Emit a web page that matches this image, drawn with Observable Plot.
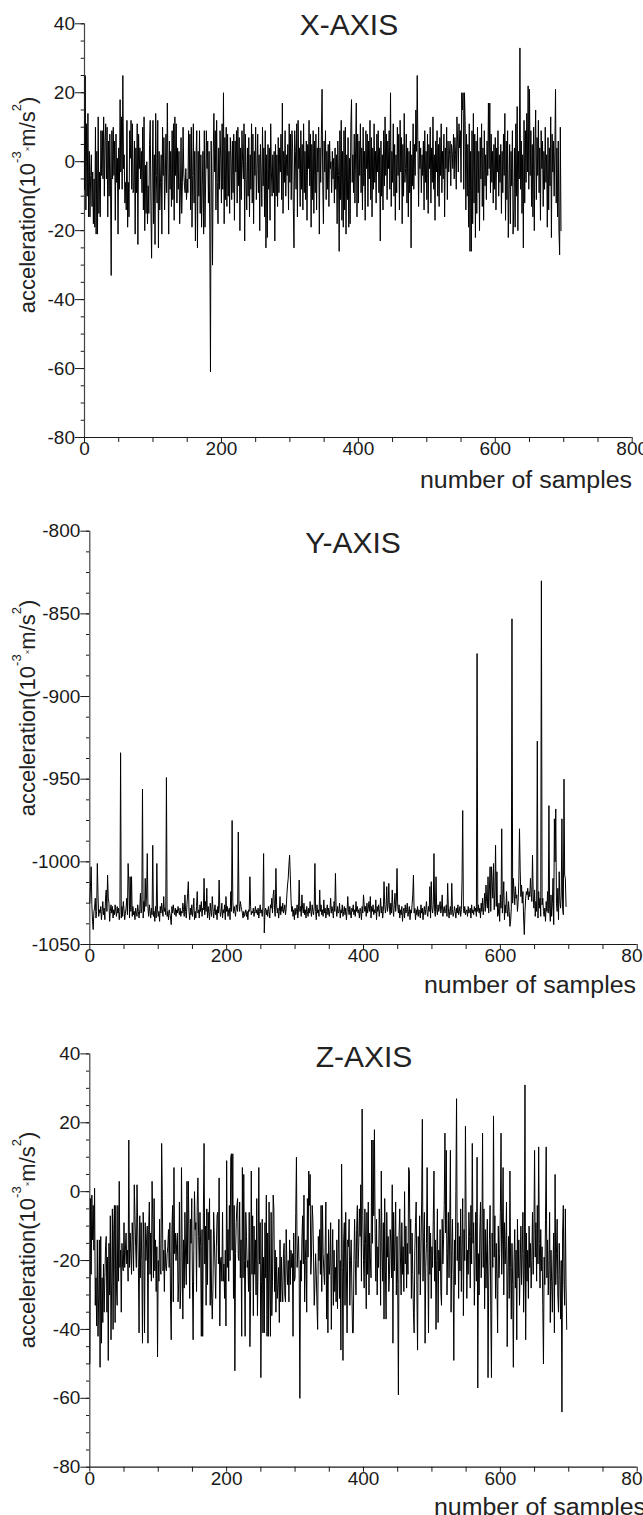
<!DOCTYPE html>
<html><head><meta charset="utf-8">
<script src="https://cdn.jsdelivr.net/npm/d3@7"></script>
<script src="https://cdn.jsdelivr.net/npm/@observablehq/plot@0.6"></script>
<style>
html,body{margin:0;padding:0;background:#fff;}
#chart{width:643px;height:1515px;overflow:hidden;background:#fff;}
#chart svg{display:block;}
</style>
</head><body><div id="chart"></div>
<script>
// ---- data (one value per sample) ----
const xSeries = [
-8,25,-14,11,-10,14,-16,3,-16,-4,2,-13,-3,-18,-5,-19,10,-21,3,-21,
13,-15,-3,-16,9,-4,9,-5,13,-10,6,11,-5,10,-16,6,-10,8,-7,-33,
9,-5,10,-4,6,-17,8,-6,1,-21,4,-8,18,-3,13,-8,25,-2,2,-12,
-6,-14,12,-19,-6,-16,9,1,12,-8,11,-9,-8,6,-21,4,-9,11,-24,8,
-2,4,-5,3,-9,10,-14,13,-20,-1,-15,0,-18,-7,-15,5,12,-13,-28,-3,
12,-18,2,-24,14,-4,-12,12,-25,3,-14,-6,2,-21,10,-4,7,-14,-5,8,
-9,17,-3,-21,6,-8,3,-13,9,-11,11,-17,13,-4,11,-12,4,-8,3,-18,
-10,7,-15,-6,10,-3,-7,-9,-2,-11,-5,-9,9,-5,8,-14,10,-19,-4,11,
-12,3,-23,2,9,-25,3,-10,9,-15,2,-19,-7,3,-21,9,-19,-5,9,-2,
6,-12,3,-20,-61,6,-6,-30,2,14,-3,9,-14,12,-6,-18,4,-8,9,1,
-12,11,-8,20,-18,7,-11,10,-13,8,-10,3,-15,7,1,-11,6,-9,8,-17,
6,-3,9,-12,10,-7,7,-20,4,-11,9,0,-5,11,-23,8,-5,-14,4,-10,
7,-16,2,-8,11,-12,8,-18,3,-4,10,-11,-2,8,-9,2,-20,5,-3,-13,
10,-7,4,-16,9,-25,2,-22,5,-8,4,-17,11,-3,-10,2,-9,3,-23,5,
-10,2,-13,7,-9,4,-3,8,-11,17,-15,3,-6,9,-10,2,-4,5,-14,11,
-6,8,-11,9,4,-13,-25,9,3,-8,11,-16,12,-2,4,-13,9,-8,5,-14,
11,-9,3,-11,6,-17,5,-2,12,-7,8,-19,5,-11,9,-15,6,-9,8,-14,
4,-3,10,-21,4,-6,8,21,-7,-18,6,-3,9,-11,3,-8,5,-13,6,-2,
0,-9,3,-5,1,-12,4,-8,2,-18,6,-4,-26,9,-11,12,-17,3,-19,9,
-14,10,-21,2,-11,7,-19,1,-18,10,18,-6,2,-9,8,-12,4,17,-16,8,
-12,6,-4,11,-9,4,-14,10,-7,3,-17,9,-2,8,-13,6,-5,12,-11,7,
-16,4,-8,11,-6,3,-12,8,-3,9,-9,4,-23,6,-10,2,-14,9,-7,13,
-4,8,-11,6,-2,9,-8,20,-13,3,-6,11,-10,5,-17,2,-9,10,-4,8,
-14,12,-3,7,-18,5,-10,14,-6,-2,8,-12,4,-16,3,-9,6,-25,2,-7,
11,-8,5,-4,15,3,25,4,-13,6,-2,4,-9,2,-4,6,-14,9,-6,3,
-11,8,-15,5,-2,10,-12,4,-6,13,-8,2,-17,6,-3,9,-10,5,-13,7,
-4,11,-9,3,-5,8,-16,4,-2,10,-11,6,-3,2,6,-7,5,3,-2,8,
-5,7,2,-8,13,6,-3,11,4,9,-6,20,15,20,-8,20,12,-14,8,-10,
5,-19,11,-26,3,-26,9,-18,14,-12,8,-22,6,-15,10,-9,3,-20,7,-5,
11,-13,4,-17,9,-7,2,-11,6,-4,17,-2,17,-9,8,-6,3,-12,5,-8,
7,-14,4,-3,9,-10,2,-6,5,-15,3,-9,8,-4,14,-17,6,-11,9,-22,
-8,5,-18,3,-7,9,-21,-14,4,-19,11,-10,16,-20,3,-5,33,-8,6,-15,
2,-25,12,-12,9,-6,14,-3,22,-8,21,-4,9,-13,5,-16,10,-20,4,15,
-11,7,-4,12,-9,4,-17,9,-2,6,-13,3,-8,10,-6,2,-19,7,-14,4,
-7,13,-22,8,-3,6,-10,3,21,-12,4,-16,6,-20,-27,10,-20
];
const ySeries = [
-1025,-1015,-1003,-1026,-1036,-1041,-1030,-1028,-1022,-1034,-1030,-1001,-1020,-1033,-1029,-1031,-1027,-1035,-1030,-1024,
-1032,-1028,-1035,-1022,-1017,-1030,-1008,-1022,-1025,-1036,-1030,-1026,-1031,-1027,-1034,-1029,-1032,-1026,-1030,-1033,
-1027,-1031,-1028,-1035,-1030,-934,-1034,-1027,-1033,-1024,-1029,-1035,-1031,-1028,-1022,-1032,-1001,-1012,-1034,-1009,
-1030,-1009,-1033,-1027,-1032,-1030,-1035,-1028,-1031,-1033,-1026,-1030,-1034,-1029,-1019,-1031,-1028,-956,-1034,-1024,
-1030,-1010,-1027,-1020,-995,-1028,-1033,-1026,-1030,-1034,-1028,-1032,-990,-1033,-1030,-1036,-1027,-1034,-1001,-1029,
-1033,-1030,-1036,-1027,-1031,-1025,-1029,-1033,-1021,-1030,-1028,-1032,-949,-1033,-1030,-1035,-1029,-1031,-1034,-1038,
-1027,-1031,-1026,-1030,-1032,-1028,-1033,-1029,-1031,-1027,-1030,-1032,-1028,-1033,-1030,-1031,-1025,-1029,-1033,-1020,
-1030,-1034,-1026,-1019,-1012,-1030,-1035,-1028,-1032,-1026,-1033,-1029,-1022,-1035,-1030,-1034,-1027,-1018,-1031,-1029,
-1034,-1026,-1030,-1024,-1033,-1028,-1029,-1010,-1032,-1024,-1030,-1016,-1034,-1027,-1031,-1035,-1025,-1030,-1033,-1021,
-1028,-1034,-1030,-1026,-1032,-1029,-1035,-1027,-1031,-1011,-1028,-1033,-1030,-1025,-1034,-1029,-1031,-1026,-1035,-1021,
-1030,-1027,-1033,-1029,-1028,-1035,-1018,-1030,-975,-1024,-1031,-1027,-1030,-1033,-1026,-1028,-1030,-982,-1025,-1030,
-1024,-1027,-1029,-1031,-1034,-1030,-1033,-1031,-1029,-1033,-1030,-1035,-1029,-1030,-1009,-1027,-1032,-1030,-1031,-1028,
-1033,-1030,-1027,-1031,-1029,-1032,-1028,-1034,-1030,-1026,-1031,-1029,-1033,-1027,-995,-1043,-1030,-1028,-1032,-1029,
-1033,-1027,-1030,-1034,-1026,-1028,-1022,-1031,-1020,-1017,-1029,-1033,-1004,-1026,-1031,-1028,-1034,-1030,-1021,-1032,
-1027,-1030,-1025,-1031,-1029,-1026,-1032,-1028,-1020,-1014,-1010,-1002,-996,-1008,-1022,-1030,-1027,-1033,-1029,-1035,
-1028,-1032,-1030,-1026,-1034,-1029,-1011,-1030,-1027,-1033,-1020,-1028,-1031,-1025,-1032,-1029,-1034,-1027,-1030,-1033,
-1028,-1031,-1024,-1030,-1033,-1026,-1030,-1032,-1027,-1001,-1030,-1035,-1026,-1031,-1029,-1033,-1017,-1030,-1026,-1032,
-1029,-1033,-1023,-1031,-1028,-1034,-1030,-1026,-1032,-1028,-1033,-1029,-1022,-1031,-1027,-1030,-1034,-1024,-1030,-1007,
-1028,-1033,-1027,-1031,-1030,-1025,-1034,-1029,-1031,-1026,-1033,-1030,-1027,-1032,-1028,-1035,-1030,-1021,-1029,-1032,
-1027,-1031,-1034,-1028,-1030,-1026,-1032,-1029,-1033,-1024,-1030,-1027,-1031,-1029,-1034,-1028,-1030,-1035,-1027,-1031,
-1020,-1026,-1030,-1027,-1033,-1025,-1031,-1028,-1024,-1030,-1021,-1034,-1027,-1030,-1026,-1032,-1029,-1031,-1023,-1035,
-1027,-1030,-1026,-1033,-1029,-1022,-1031,-1027,-1034,-1030,-1012,-1026,-1031,-1027,-1015,-1030,-1026,-1013,-1029,-1032,
-1025,-1031,-1017,-1028,-1033,-1026,-1019,-1030,-1024,-1004,-1027,-1031,-1026,-1034,-1029,-1032,-1027,-1036,-1030,-1028,
-1034,-1026,-1031,-1029,-1025,-1033,-1030,-1027,-1035,-1029,-1031,-1026,-1020,-1008,-1031,-1028,-1035,-1029,-1032,-1027,
-1033,-1029,-1030,-1034,-1026,-1031,-1028,-1035,-1030,-1027,-1032,-1029,-1024,-1031,-1033,-1027,-1030,-1015,-1034,-1012,
-1028,-1031,-1026,-995,-1030,-1033,-1009,-1029,-1032,-1026,-1030,-1027,-1024,-1031,-1028,-1020,-1033,-1029,-1027,-1031,
-1030,-1026,-1033,-1013,-1028,-1034,-1030,-1027,-1032,-1013,-1029,-1033,-1031,-1027,-1030,-1034,-1028,-1031,-1026,-1032,
-1030,-1027,-1033,-1029,-1011,-969,-1028,-1031,-1027,-1032,-1030,-1029,-1033,-1027,-1031,-1030,-1028,-1034,-1026,-1031,
-1029,-1032,-1027,-1030,-1028,-1033,-874,-1030,-1026,-1031,-1028,-1034,-1025,-1030,-1022,-1032,-1027,-1019,-1030,-1014,
-1024,-1028,-1009,-1031,-1017,-1003,-1030,-1003,-1012,-1022,-1001,-1029,-1018,-990,-1027,-1006,-1033,-1032,-1025,-1036,
-1020,-1028,-980,-1031,-1022,-1012,-1035,-1026,-1031,-1018,-1029,-1033,-1024,-1030,-1039,-1036,-1028,-853,-1025,-1010,
-1018,-1026,-1015,-1022,-1020,-1030,-1024,-1012,-980,-1005,-1021,-1014,-1025,-1018,-1034,-1044,-1030,-1022,-1018,-1020,
-1016,-1023,-1018,-1021,-1010,-1019,-1024,-996,-1020,-1028,-1017,-1033,-1024,-1030,-927,-1034,-1018,-1028,-1022,-1033,
-830,-1026,-1022,-1030,-1033,-1028,-1036,-1024,-1030,-1018,-1031,-966,-1028,-1036,-1020,-1033,-1025,-1010,-1038,-974,
-1000,-968,-1025,-1030,-1016,-1035,-1006,-1024,-1028,-1020,-974,-1028,-1032,-950,-1008,-1010,-1027
];
const zSeries = [
-50,-2,-24,-1,-14,-4,-17,1,-33,-25,-39,-14,-42,-30,-14,-51,-13,-44,-25,-38,
-21,-35,-25,-16,-13,-35,-19,-49,-15,-30,-7,-43,-26,-5,-40,-11,-4,-38,-4,-28,
-33,-4,-26,3,-22,-17,-35,-15,-22,-23,-9,-22,-17,-12,-21,-17,-26,15,-22,-12,
-18,-24,-9,-14,-23,2,-7,-16,-22,2,-10,-22,-41,-7,-25,-9,-20,-44,-6,-15,
-41,-9,-20,-14,-10,-44,-11,-3,-24,-12,-26,3,-8,-25,-2,-23,-14,-29,-16,-48,
-20,-26,-8,-23,-24,14,-2,-23,-17,-29,-14,-22,-23,-18,-16,-11,-22,-9,-32,-43,
-11,-4,-32,7,-18,-12,-20,-15,-12,-32,-26,-3,-34,-28,7,-17,-37,-14,-28,-6,
-19,-27,3,-21,3,-12,-31,-8,-15,-2,-26,-43,-17,0,-11,-9,-29,-4,4,-13,
-22,-6,-16,-42,-11,-42,-6,14,-21,-10,-33,-5,-27,-6,-14,-2,-33,-11,-30,-37,
-28,-6,-14,-22,-31,-16,-7,-6,-21,4,-39,-20,-19,-26,-6,-26,-21,-31,-17,-39,
9,-22,-11,-26,-4,-20,10,11,-17,11,-31,-4,-52,-18,-9,-4,-2,-19,-20,-3,
-25,-14,-42,7,-25,5,-20,-42,-6,-13,-22,-20,-29,-6,-45,-29,6,-24,-7,-36,
-10,-24,-14,-30,-2,-36,-20,7,-21,-9,-54,-26,-8,-41,-19,-41,-9,-25,-1,-42,
-12,-42,-3,-27,-42,-6,-36,-26,-1,-5,-29,-17,-35,-19,-31,-27,-22,-38,-14,-32,
-19,-28,-32,-18,-15,-30,-32,-11,-21,-27,-20,-32,-14,-27,-17,-22,-18,-42,-12,-26,
-25,-6,10,-22,-17,-13,-24,-60,-20,-26,-14,-7,-21,-1,-32,-20,-14,-35,-2,-19,
6,-4,5,-24,-19,-4,-8,-19,-33,-27,-18,-24,-33,-40,-13,-20,-11,-24,-4,-29,
-4,-18,-23,-27,-16,-3,-37,-18,-41,-11,-24,-21,-9,-40,-21,-11,-33,-17,-29,-22,
-32,-14,-34,-18,-8,-31,-20,-46,8,-22,-49,-14,-9,-33,-6,-23,-41,-14,-16,-8,
-33,-20,-14,-28,-41,-41,-21,-8,-20,-30,-11,-4,-22,-16,-5,-13,2,-26,24,-7,
-20,-28,-5,-15,-34,-6,-24,-3,-30,-12,-19,-25,15,-15,15,-7,18,-12,-26,-8,
-30,-16,-22,-5,-11,-33,6,-17,-26,-9,-37,-2,-23,-37,-6,-19,-13,-29,-24,-11,
-15,-25,2,-44,-6,-23,-14,-3,-30,-13,-27,-59,-12,-5,-19,-30,-9,-24,-16,-29,
0,-21,-10,-28,-15,-24,7,6,-18,-8,-31,-12,-24,-35,-41,-17,-9,-3,-28,-46,
-13,-24,-7,-30,-17,-3,21,-26,-13,-6,-44,-22,-15,7,-18,-41,-10,-24,-12,-31,
-16,-22,-8,6,-26,-14,-40,-20,-5,-38,-17,-23,-11,-29,-33,-8,-21,-14,-4,17,
-12,12,-30,-18,-6,-25,-10,12,-35,-17,-8,-24,-49,-14,-27,0,27,-20,-9,-31,
-13,-23,-5,-29,-16,-2,-36,-11,-20,19,-8,-31,-17,-24,-6,-13,-28,-4,-21,14,
-15,-9,-33,-20,-6,-26,10,-57,-18,-30,-12,-3,-25,-16,17,-22,-5,-34,-11,-28,
-17,-8,-54,-26,-14,-4,-35,-54,-12,-22,22,-19,-7,-31,-15,-26,-41,-10,-25,-18,
-6,17,-24,-14,7,-30,-9,-21,-16,-3,-45,-23,-13,-31,6,-22,-37,-15,-27,-51,
-20,-11,-28,-17,-43,-8,-25,-14,-33,-21,-10,-27,-18,-6,-35,-23,31,-43,-12,-26,
-17,-31,-10,-22,-15,-28,-20,-6,-24,-13,12,-19,-9,-26,-4,-21,13,-15,-28,-11,
-23,-16,-33,-50,-19,-27,-8,13,-25,-14,-30,-22,-6,-38,-17,-26,-35,-21,-12,-41,
5,-27,-18,-8,-30,-35,-15,-24,-37,-20,-64,-12,-4,-26,-33,-5,-27,-40
];

// ---- axis ticks and labels ----
const panelTitles = ["X-AXIS", "Y-AXIS", "Z-AXIS"];
const xTickMarks = [0,50,100,150,200,250,300,350,400,450,500,550,600,650,700,750,800];
const xTickLabels = [0,200,400,600,800];
const yMajorXZ = [-80,-60,-40,-20,0,20,40];
const yMinorXZ = [-80,-75,-70,-65,-60,-55,-50,-45,-40,-35,-30,-25,-20,-15,-10,-5,0,5,10,15,20,25,30,35,40];
const yMajorY = [-1050,-1000,-950,-900,-850,-800];
const yMinorY = [-1050,-1037.5,-1025,-1012.5,-1000,-987.5,-975,-962.5,-950,-937.5,-925,-912.5,-900,-887.5,-875,-862.5,-850,-837.5,-825,-812.5,-800];
const xAxisTitle = "number of samples";

const panels = [
  {title: panelTitles[0], values: xSeries, domain: [-80, 40], major: yMajorXZ, minor: yMinorXZ,
   ml: 84, mr: 11.3, mt: 23.3, mb: 68, titleX: 349, titleY: 35, xlabX: 632, xlabY: 488, ylabY: 205},
  {title: panelTitles[1], values: ySeries, domain: [-1050, -800], major: yMajorY, minor: yMinorY,
   ml: 89.3, mr: 6.3, mt: 25.7, mb: 66, titleX: 353, titleY: 48, xlabX: 636, xlabY: 488, ylabY: 203},
  {title: panelTitles[2], values: zSeries, domain: [-80, 40], major: yMajorXZ, minor: yMinorXZ,
   ml: 89.3, mr: 6.3, mt: 43.4, mb: 48.3, titleX: 364, titleY: 57, xlabX: 646, xlabY: 505, ylabY: 230}
];

const chart = document.getElementById("chart");
const ink = "#1a1a1a";
const plain = d => String(d);

for (const p of panels) {
  const table = p.values.map((v, i) => ({sample: i, value: v}));
  const svg = Plot.plot({
    width: 643, height: 505,
    marginLeft: p.ml, marginRight: p.mr, marginTop: p.mt, marginBottom: p.mb,
    x: {domain: [0, 800]},
    y: {domain: p.domain},
    style: {fontFamily: "'Liberation Sans', Arial, sans-serif", fontSize: "19px", color: ink, background: "#fff", overflow: "visible"},
    marks: [
      Plot.axisY({ticks: p.minor, tickSize: 3.3, text: null, label: null}),
      Plot.axisY({ticks: p.major, tickSize: 9, tickPadding: 0.5, tickFormat: plain, label: null}),
      Plot.axisX({ticks: xTickMarks, tickSize: 5, text: null, label: null}),
      Plot.axisX({ticks: xTickLabels, tickSize: 0, tickPadding: 4, tickFormat: plain, label: null}),
      Plot.ruleX([0], {stroke: "#444", strokeWidth: 1.2}),
      Plot.ruleY([p.domain[0]], {stroke: ink, strokeWidth: 1.2}),
      Plot.line(table, {x: "sample", y: "value", stroke: "#000", strokeWidth: 1})
    ]
  });
  const s = d3.select(svg);
  s.append("text")
    .attr("x", p.titleX).attr("y", p.titleY)
    .attr("text-anchor", "middle")
    .style("font-size", "30px").attr("fill", "#222")
    .text(p.title);
  s.append("text")
    .attr("x", p.xlabX).attr("y", p.xlabY)
    .attr("text-anchor", "end")
    .attr("textLength", 212).attr("lengthAdjust", "spacingAndGlyphs")
    .style("font-size", "23px").attr("fill", "#222")
    .text(xAxisTitle);
  const t = s.append("text")
    .attr("transform", `translate(35,${p.ylabY}) rotate(-90)`)
    .attr("text-anchor", "middle")
    .style("font-size", "22px").attr("fill", "#222");
  t.append("tspan").text("acceleration(10");
  t.append("tspan").attr("dy", -14).style("font-size", "13px").text("-3");
  t.append("tspan").attr("dy", 9).style("font-size", "8px").text("×");
  t.append("tspan").attr("dy", 5).text("m/s");
  t.append("tspan").attr("dy", -14).style("font-size", "13px").text("2");
  t.append("tspan").attr("dy", 14).text(")");
  chart.appendChild(svg);
}
</script>
</body></html>
